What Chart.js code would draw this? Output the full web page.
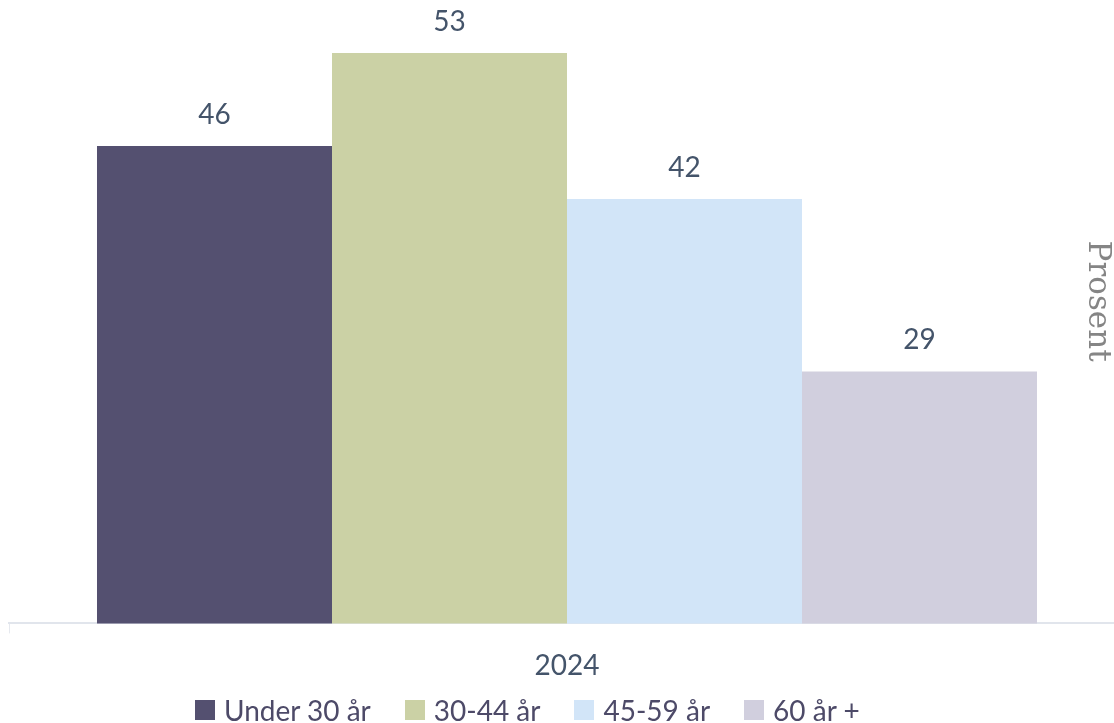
<!DOCTYPE html>
<html>
<head>
<meta charset="utf-8">
<script src="https://cdn.jsdelivr.net/npm/chart.js@4"></script>
<style>
  html, body { margin: 0; padding: 0; background: #ffffff; overflow: hidden; }
  #wrap { width: 1125px; height: 723px; position: relative; }
  #legend {
    position: absolute; left: 195px; top: 696px; height: 28px;
    display: flex; align-items: center; gap: 34px;
    font-family: Lato, sans-serif; font-size: 28px; line-height: 28px; color: #4d4a68;
    white-space: nowrap;
  }
  #legend .item { display: flex; align-items: center; }
  #legend .swatch { width: 20px; height: 20px; margin-right: 9px; }
</style>
</head>
<body>
<div id="wrap">
  <canvas id="chart"></canvas>
  <div id="legend"></div>
</div>
<script>
// Andel per aldersgruppe, 2024 (prosent)
const categories = ['2024'];
const seriesNames = ['Under 30 år', '30-44 år', '45-59 år', '60 år +'];
const under30 = [46];
const age30to44 = [53];
const age45to59 = [42];
const age60plus = [29];
const seriesColors = ['#545070', '#cbd1a5', '#d2e5f8', '#d1cfde'];
const axisTitle = 'Prosent';

const FONT = 'Lato';
const LABEL_COLOR = '#44546a';

// Value printed above each bar
const valueLabels = {
  id: 'valueLabels',
  afterDatasetsDraw(chart) {
    const ctx = chart.ctx;
    ctx.save();
    ctx.font = '28px ' + FONT;
    ctx.fillStyle = LABEL_COLOR;
    ctx.textAlign = 'center';
    ctx.textBaseline = 'middle';
    chart.data.datasets.forEach((ds, i) => {
      chart.getDatasetMeta(i).data.forEach((bar, j) => {
        ctx.fillText(String(ds.data[j]), bar.x, bar.y - 31);
      });
    });
    ctx.restore();
  }
};

// Rotated axis title along the right edge
const sideTitle = {
  id: 'sideTitle',
  afterDraw(chart) {
    const { ctx, chartArea } = chart;
    ctx.save();
    ctx.translate(chart.width - 28, chartArea.top + chartArea.height * 0.483);
    ctx.rotate(Math.PI / 2);
    ctx.font = '31px "DejaVu Serif"';
    ctx.fillStyle = '#858585';
    ctx.textAlign = 'center';
    ctx.textBaseline = 'middle';
    ctx.fillText(axisTitle, 0, 0);
    ctx.restore();
  }
};

Chart.defaults.font.family = FONT;

const chart = new Chart(document.getElementById('chart'), {
  type: 'bar',
  data: {
    labels: categories,
    datasets: [
      { label: seriesNames[0], data: under30, backgroundColor: seriesColors[0] },
      { label: seriesNames[1], data: age30to44, backgroundColor: seriesColors[1] },
      { label: seriesNames[2], data: age45to59, backgroundColor: seriesColors[2] },
      { label: seriesNames[3], data: age60plus, backgroundColor: seriesColors[3] }
    ]
  },
  options: {
    responsive: true,
    maintainAspectRatio: false,
    animation: false,
    layout: { padding: { left: 9, right: 0, top: 0, bottom: 24 } },
    datasets: {
      bar: { categoryPercentage: 0.8423, barPercentage: 1, borderWidth: 0 }
    },
    scales: {
      x: {
        grid: {
          display: true,
          drawOnChartArea: false,
          drawTicks: true,
          tickLength: 10,
          color: '#e6e9ef',
          lineWidth: 1
        },
        border: { display: true, color: '#e1e5ec', width: 2 },
        ticks: {
          color: LABEL_COLOR,
          font: { size: 28, family: FONT },
          padding: 16
        }
      },
      y: {
        display: false,
        min: 10,
        max: 57
      }
    },
    plugins: {
      legend: { display: false },
      tooltip: { enabled: false }
    }
  },
  plugins: [valueLabels, sideTitle]
});

// Legend row built from the chart's own datasets
const legendEl = document.getElementById('legend');
chart.data.datasets.forEach(ds => {
  const item = document.createElement('div');
  item.className = 'item';
  const sw = document.createElement('span');
  sw.className = 'swatch';
  sw.style.background = ds.backgroundColor;
  const txt = document.createElement('span');
  txt.textContent = ds.label;
  item.appendChild(sw);
  item.appendChild(txt);
  legendEl.appendChild(item);
});
</script>
</body>
</html>
